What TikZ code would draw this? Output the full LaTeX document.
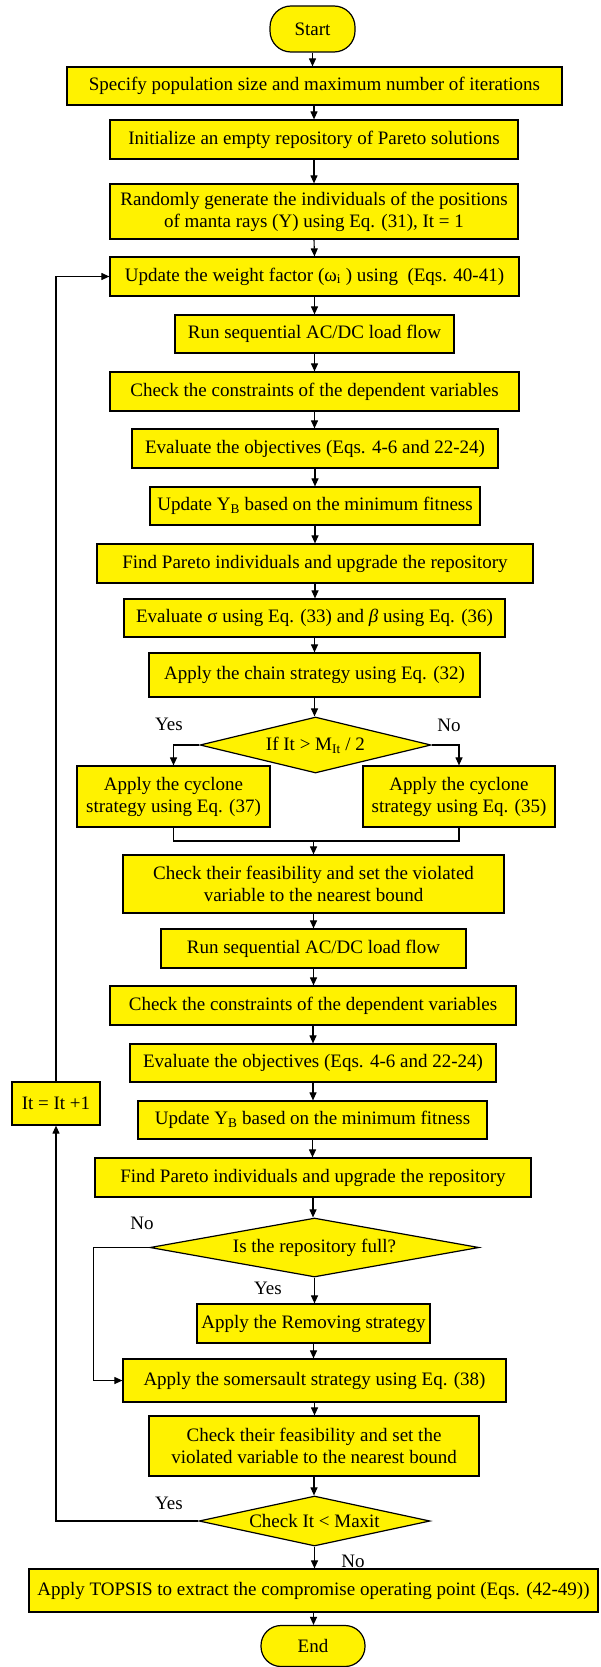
\documentclass[tikz,border=0pt]{standalone}
\usepackage{fontspec}
\setmainfont{Liberation Serif}
\usetikzlibrary{shapes.geometric,arrows.meta}
\newcommand\myfs{\fontsize{19}{22}\selectfont}
\tikzset{
  proc/.style={draw=black, line width=1.2pt, fill=yellow, inner sep=0pt, align=center, font=\myfs},
  term/.style={proc, rounded corners=21pt},
  dec/.style={proc, diamond},
  lbl/.style={font=\myfs, inner sep=0pt},
  conn/.style={line width=1.1pt, -{Triangle[length=8pt,width=7pt]}},
  plain/.style={line width=1.1pt}
}
\begin{document}
\begin{tikzpicture}[x=1pt,y=-1pt]
\useasboundingbox (0,0) rectangle (600,1667);
% nodes
\node[term, minimum width=85pt, minimum height=46pt] (start) at (312.5,29) {Start};
\node[proc, minimum width=495pt, minimum height=38pt] (spec) at (314.5,86) {Specify population size and maximum number of iterations};
\node[proc, minimum width=408pt, minimum height=39pt] (init) at (314,139.5) {Initialize an empty repository of Pareto solutions};
\node[proc, minimum width=408pt, minimum height=55pt] (rand) at (314,211.5) {Randomly generate the individuals of the positions\\of manta rays (Y) using Eq. (31), It = 1};
\node[proc, minimum width=409pt, minimum height=39pt] (upd) at (314.5,276.5) {Update the weight factor (ω\textsubscript{i} ) using \ (Eqs. 40-41)};
\node[proc, minimum width=279pt, minimum height=38pt] (run1) at (314.5,334) {Run sequential AC/DC load flow};
\node[proc, minimum width=409pt, minimum height=39pt] (chk1) at (314.5,391.5) {Check the constraints of the dependent variables};
\node[proc, minimum width=366pt, minimum height=39pt] (eval1) at (315,448.5) {Evaluate the objectives (Eqs. 4-6 and 22-24)};
\node[proc, minimum width=330pt, minimum height=38pt] (yb1) at (315,506) {Update Y\textsubscript{B} based on the minimum fitness};
\node[proc, minimum width=436pt, minimum height=39pt] (par1) at (315,563.5) {Find Pareto individuals and upgrade the repository};
\node[proc, minimum width=381pt, minimum height=38pt] (sig) at (314.5,618) {Evaluate σ using Eq. (33) and \textit{β} using Eq. (36)};
\node[proc, minimum width=331pt, minimum height=44pt] (chain) at (314.5,675) {Apply the chain strategy using Eq. (32)};
\node[dec, aspect=4.1, minimum width=231pt, minimum height=56pt] (dia1) at (315.5,745) {If It {\textgreater} M\textsubscript{It} / 2};
\node[proc, minimum width=193pt, minimum height=61pt] (cycL) at (173.5,796.5) {Apply the cyclone\\strategy using Eq. (37)};
\node[proc, minimum width=192pt, minimum height=61pt] (cycR) at (459,796.5) {Apply the cyclone\\strategy using Eq. (35)};
\coordinate (merge) at (313.5,841);
\node[proc, minimum width=381pt, minimum height=58pt] (feas1) at (313.5,884) {Check their feasibility and set the violated\\variable to the nearest bound};
\node[proc, minimum width=305pt, minimum height=39pt] (run2) at (313.5,948.5) {Run sequential AC/DC load flow};
\node[proc, minimum width=406pt, minimum height=39pt] (chk2) at (313,1005.5) {Check the constraints of the dependent variables};
\node[proc, minimum width=366pt, minimum height=38pt] (eval2) at (313,1063) {Evaluate the objectives (Eqs. 4-6 and 22-24)};
\node[proc, minimum width=88pt, minimum height=43pt] (itb) at (56,1103.5) {It = It +1};
\node[proc, minimum width=349pt, minimum height=38pt] (yb2) at (312.5,1120) {Update Y\textsubscript{B} based on the minimum fitness};
\node[proc, minimum width=436pt, minimum height=39pt] (par2) at (313,1177.5) {Find Pareto individuals and upgrade the repository};
\node[dec, aspect=5.6, minimum width=329pt, minimum height=59pt] (dia2) at (314.5,1247.5) {Is the repository full?};
\node[proc, minimum width=233pt, minimum height=39pt] (rem) at (313.5,1323.5) {Apply the Removing strategy};
\node[proc, minimum width=383pt, minimum height=43pt] (som) at (314.5,1380.5) {Apply the somersault strategy using Eq. (38)};
\node[proc, minimum width=330pt, minimum height=60pt] (feas2) at (314,1446) {Check their feasibility and set the\\violated variable to the nearest bound};
\node[dec, aspect=4.6, minimum width=231pt, minimum height=50pt] (dia3) at (314.5,1521) {Check It {\textless} Maxit};
\node[proc, minimum width=569pt, minimum height=43pt] (tops) at (313.5,1590.5) {Apply TOPSIS to extract the compromise operating point (Eqs. (42-49))};
\node[term, minimum width=104pt, minimum height=41pt, rounded corners=20pt] (endn) at (313,1646) {End};
% labels
\node[lbl] (l1) at (169,724) {Yes};
\node[lbl] (l2) at (449,725) {No};
\node[lbl] (l3) at (142,1223) {No};
\node[lbl] (l4) at (268,1288) {Yes};
\node[lbl] (l5) at (169,1503) {Yes};
\node[lbl] (l6) at (353,1561) {No};
% coordinates for loops
\coordinate (nox) at (93.5,0);
% straight connectors
\draw[conn] (start.south) -- (start.south |- spec.north);
\draw[conn] (spec.south -| init.north) -- (init.north);
\draw[conn] (init.south) -- (rand.north);
\draw[conn] (rand.south) -- (upd.north);
\draw[conn] (upd.south) -- (upd.south |- run1.north);
\draw[conn] (run1.south) -- (run1.south |- chk1.north);
\draw[conn] (chk1.south) -- (chk1.south |- eval1.north);
\draw[conn] (eval1.south) -- (eval1.south |- yb1.north);
\draw[conn] (yb1.south) -- (yb1.south |- par1.north);
\draw[conn] (par1.south) -- (par1.south |- sig.north);
\draw[conn] (sig.south) -- (sig.south |- chain.north);
\draw[conn] (chain.south) -- (chain.south |- dia1.north);
\draw[conn] (dia1.west) -| (cycL.north);
\draw[conn] (dia1.east) -| (cycR.north);
\draw[plain] (cycL.south) |- (merge) -| (cycR.south);
\draw[conn] (merge) -- (merge |- feas1.north);
\draw[conn] (feas1.south) -- (feas1.south |- run2.north);
\draw[conn] (run2.south) -- (run2.south |- chk2.north);
\draw[conn] (chk2.south) -- (chk2.south |- eval2.north);
\draw[conn] (eval2.south) -- (eval2.south |- yb2.north);
\draw[conn] (yb2.south) -- (yb2.south |- par2.north);
\draw[conn] (par2.south) -- (par2.south |- dia2.north);
\draw[conn] (dia2.south) -- (dia2.south |- rem.north);
\draw[conn] (rem.south) -- (rem.south |- som.north);
\draw[conn] (som.south) -- (som.south |- feas2.north);
\draw[conn] (feas2.south) -- (feas2.south |- dia3.north);
\draw[conn] (dia3.south) -- (dia3.south |- tops.north);
\draw[conn] (tops.south) -- (tops.south |- endn.north);
% loops
\draw[conn] (dia2.west) -- (dia2.west -| nox) |- (som.west);
\draw[conn] (dia3.west) -| (itb.south);
\draw[conn] (itb.north) |- (upd.west);
\end{tikzpicture}
\end{document}
